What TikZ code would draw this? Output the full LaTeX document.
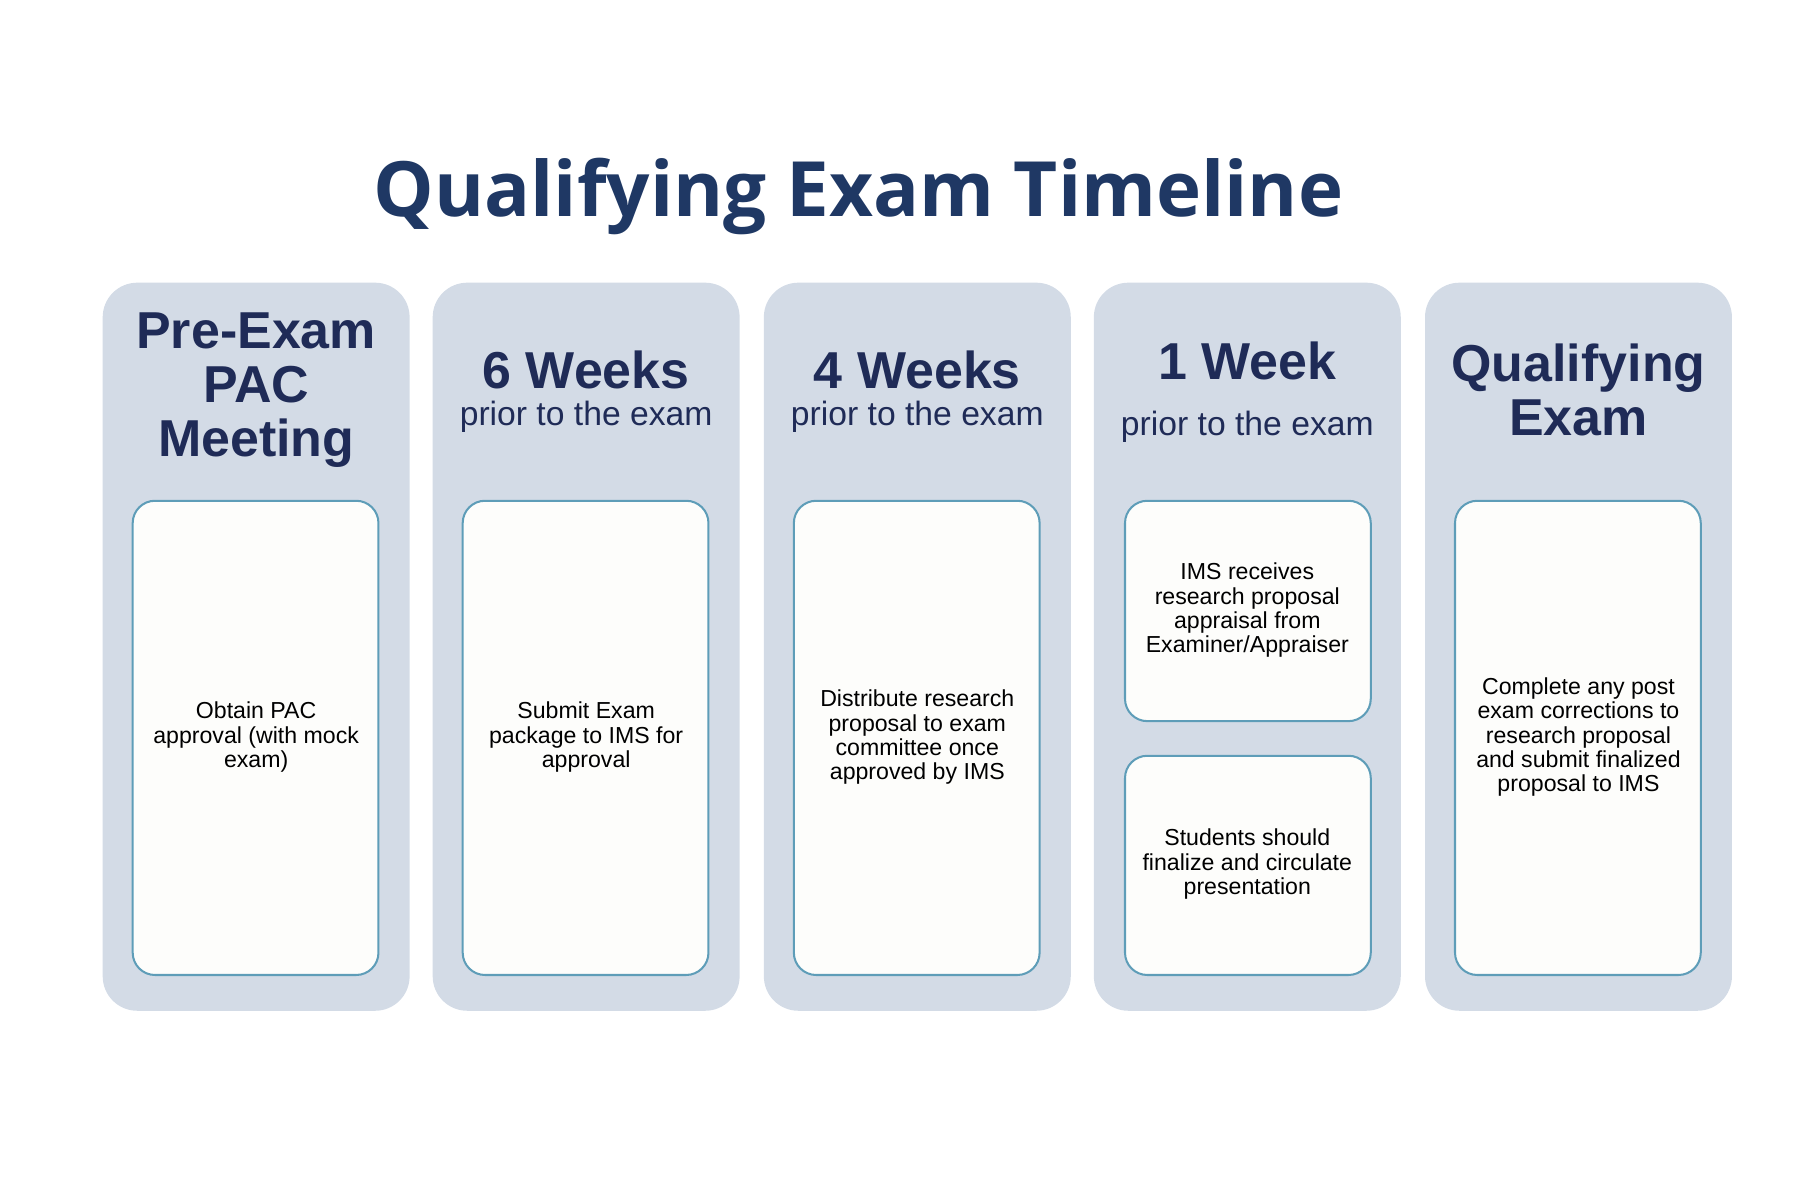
\documentclass[tikz,border=0pt]{standalone}
\usepackage{fontspec}
\setmainfont{Liberation Sans}
\newfontfamily\titlefont{Open Sans}
\definecolor{navy}{HTML}{1F3864}
\definecolor{hdr}{HTML}{1F2B57}
\definecolor{panel}{HTML}{D3DBE6}
\definecolor{edge}{HTML}{5E9DB8}
\definecolor{card}{HTML}{FDFDFB}
\begin{document}
\begin{tikzpicture}[x=0.01cm,y=-0.01cm,
  panelbox/.style={fill=panel,rounded corners=8.5pt},
  cardbox/.style={draw=edge,line width=0.5pt,fill=card,rounded corners=5.5pt},
  head/.style={font=\bfseries\fontsize{12.8}{13.3}\selectfont,text=hdr,align=center},
  sub/.style={font=\fontsize{8.3}{10}\selectfont,text=hdr,align=center},
  txt/.style={font=\fontsize{5.7}{6}\selectfont,align=center}]
\useasboundingbox (0,0) rectangle (1560,1040);
\node[font=\titlefont\bfseries\fontsize{18.8}{22}\selectfont,text=navy] (title) at (744,170) {Qualifying Exam Timeline};
\foreach \i/\x in {1/89,2/375,3/662,4/948,5/1235}{
  \fill[panelbox] (\x,245) rectangle +(266,631);
}
\foreach \i/\x in {1/115,2/401,3/688,5/1261}{
  \draw[cardbox] (\x,434) rectangle +(213,411);
}
\draw[cardbox] (975,434) rectangle (1188,625);
\draw[cardbox] (975,655) rectangle (1188,845);
\node[head] (h1) at (222,338) {Pre-Exam\\PAC\\Meeting};
\node[head] (h2) at (508,321) {6 Weeks};
\node[sub] (s2) at (508,361) {prior to the exam};
\node[head] (h3) at (795,321) {4 Weeks};
\node[sub] (s3) at (795,361) {prior to the exam};
\node[head] (h4) at (1081,313) {1 Week};
\node[sub] (s4) at (1081,370) {prior to the exam};
\node[head] (h5) at (1368,338) {Qualifying\\Exam};
\node[txt] (t1) at (222,639) {Obtain PAC\\approval (with mock\\exam)};
\node[txt] (t2) at (508,639) {Submit Exam\\package to IMS for\\approval};
\node[txt] (t3) at (795,639) {Distribute research\\proposal to exam\\committee once\\approved by IMS};
\node[txt] (t4a) at (1081,529) {IMS receives\\research proposal\\appraisal from\\Examiner/Appraiser};
\node[txt] (t4b) at (1081,749) {Students should\\finalize and circulate\\presentation};
\node[txt] (t5) at (1368,639) {Complete any post\\exam corrections to\\research proposal\\and submit finalized\\proposal to IMS};
\end{tikzpicture}
\end{document}
